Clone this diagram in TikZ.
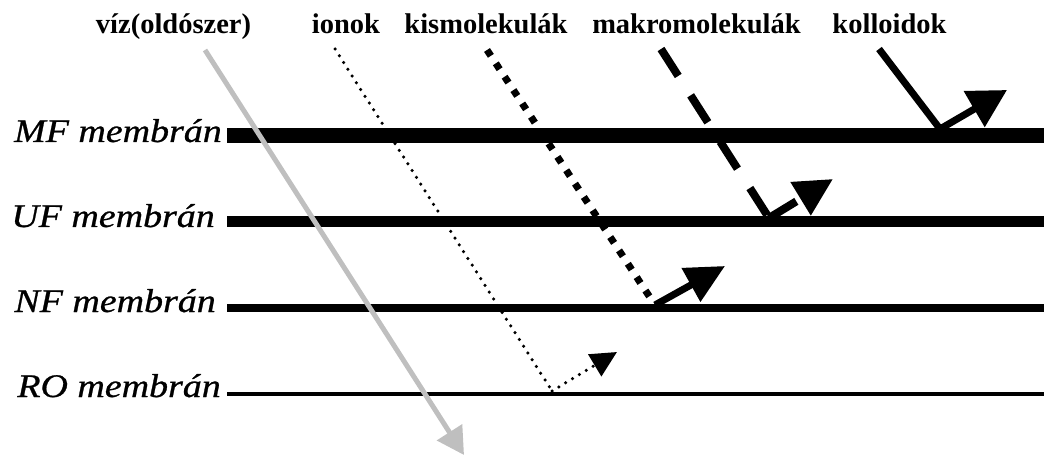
\documentclass[tikz,border=0pt]{standalone}
\usepackage{fontspec}
\usetikzlibrary{arrows.meta}
\newfontfamily\memfont{Liberation Serif}[FakeStretch=1.15,FakeBold=0.8]
\newfontfamily\headfont{Liberation Serif}
\definecolor{watergray}{RGB}{191,191,191}
\tikzset{
  membrane/.style={line cap=butt},
  memlabel/.style={anchor=base east, inner sep=0pt, font=\memfont\itshape\fontsize{33}{36}\selectfont},
  headlabel/.style={anchor=base, inner sep=0pt, font=\headfont\bfseries\fontsize{28.5}{32}\selectfont},
  waterflow/.style={watergray, line width=5pt, -{Triangle[length=27pt,width=29pt]}},
  ionflow/.style={line width=3.5pt, line cap=round, dash pattern=on 0pt off 8pt},
  ionarrow/.style={ionflow, -{Triangle[length=26pt,width=25pt]}},
  smallflow/.style={line width=7pt, line cap=butt, dash pattern=on 7pt off 9pt},
  smallarrow/.style={line width=7pt, -{Triangle[length=39pt,width=37pt]}},
  macroflow/.style={line width=8pt, line cap=butt, dash pattern=on 32pt off 23pt},
  macroarrow/.style={macroflow, -{Triangle[length=38pt,width=37pt]}},
  colflow/.style={line width=7pt, line cap=butt},
  colarrow/.style={colflow, -{Triangle[length=38pt,width=40pt]}},
}
\begin{document}
\begin{tikzpicture}[x={(1pt,0)}, y={(0,-1pt)}]
\useasboundingbox (0,0) rectangle (1044,457);

% membrane layers
\coordinate (mfL) at (227,135.5); \coordinate (mfR) at (1044,135.5);
\coordinate (ufL) at (227,221.5); \coordinate (ufR) at (1044,221.5);
\coordinate (nfL) at (227,308);   \coordinate (nfR) at (1044,308);
\coordinate (roL) at (227,394);   \coordinate (roR) at (1044,394);
\draw[membrane, line width=15pt] (mfL) -- (mfR);
\draw[membrane, line width=11pt] (ufL) -- (ufR);
\draw[membrane, line width=8pt]  (nfL) -- (nfR);
\draw[membrane, line width=4pt]  (roL) -- (roR);

\node[memlabel] (mf) at (222,142) {MF membrán};
\node[memlabel] (uf) at (215,227) {UF membrán};
\node[memlabel] (nf) at (216,312) {NF membrán};
\node[memlabel] (ro) at (221,397) {RO membrán};

% species
\node[headlabel] (water) at (173.5,34) {víz(oldószer)};
\node[headlabel] (ion)   at (346,34)   {ionok};
\node[headlabel] (small) at (486,34)   {kismolekulák};
\node[headlabel] (macro) at (696.5,34) {makromolekulák};
\node[headlabel] (coll)  at (889.5,34) {kolloidok};

% path start points, retention points and deflection tips
\coordinate (wS) at (205,50);  \coordinate (wE) at (464,455);
\coordinate (iS) at (335,49);  \coordinate (iR) at (552,391); \coordinate (iT) at (617,352);
\coordinate (sS) at (487,50);  \coordinate (sR) at (655,305); \coordinate (sT) at (725,266);
\coordinate (mS) at (661,49);  \coordinate (mR) at (769,218); \coordinate (mT) at (833,179);
\coordinate (cS) at (879,49);  \coordinate (cR) at (940,129); \coordinate (cT) at (1007,90);

\draw[ionflow] (iS) -- (iR);
\draw[ionarrow] (iR) -- (iT);
\draw[smallflow] (sS) -- (sR);
\draw[smallarrow] (sR) -- (sT);
\draw[macroflow] (mS) -- (mR);
\draw[macroarrow] (mR) -- (mT);
\draw[colflow] (cS) -- (cR);
\draw[colarrow] (cR) -- (cT);
\draw[waterflow] (wS) -- (wE);
\end{tikzpicture}
\end{document}
